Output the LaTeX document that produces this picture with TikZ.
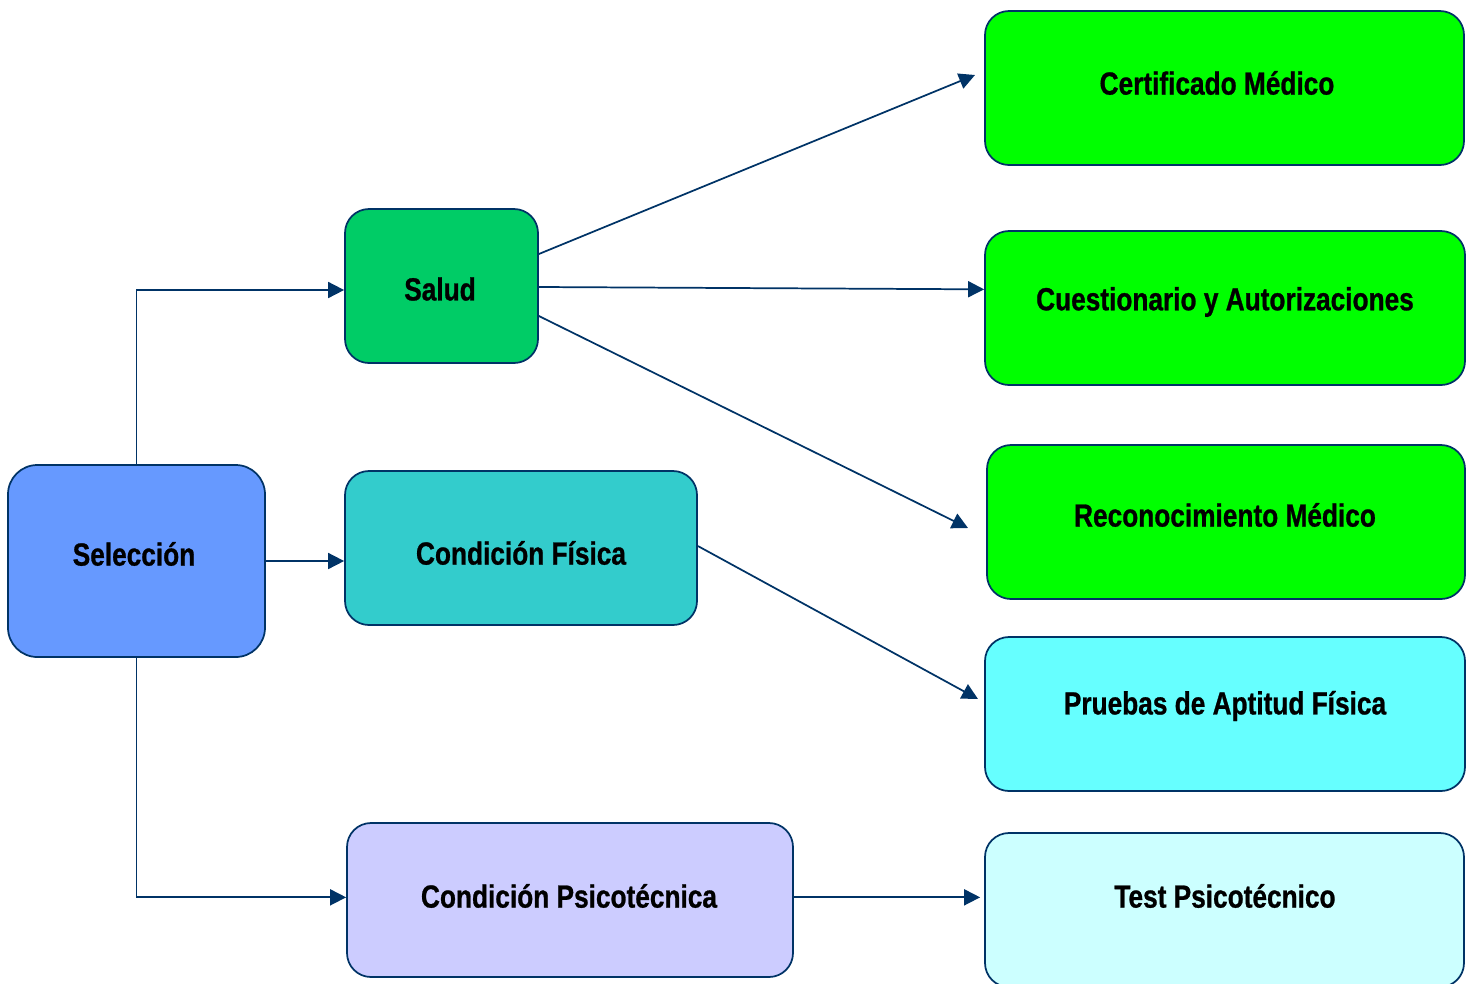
\documentclass[tikz,border=0pt]{standalone}
\usepackage{fontspec}
\setmainfont{Liberation Sans}[FakeStretch=0.82]
\newfontfamily\lblfont{Liberation Sans}[FakeStretch=0.82,FakeBold=0.8,BoldFont={* Bold},BoldFeatures={FakeStretch=0.82,FakeBold=0.8}]
\usetikzlibrary{arrows.meta,calc}
\definecolor{edge}{HTML}{003366}
\definecolor{cSel}{HTML}{6699FF}
\definecolor{cSal}{HTML}{00CC66}
\definecolor{cCF}{HTML}{33CCCC}
\definecolor{cCP}{HTML}{CCCCFF}
\definecolor{cGr}{HTML}{00FF00}
\definecolor{cPr}{HTML}{66FFFF}
\definecolor{cTe}{HTML}{CCFFFF}
\tikzset{
  box/.style={draw=edge, line width=1.3pt, rounded corners=18pt, inner sep=0pt,
    minimum height=115.5pt},
  lbl/.style={inner sep=0pt, font=\lblfont\fontsize{24}{28}\selectfont\bfseries},
  conn/.style={draw=edge, line width=1.3pt, -{Triangle[length=12pt,width=12pt]}}
}
\begin{document}
\begin{tikzpicture}[x=0.75pt,y=-0.75pt]
\useasboundingbox (0,0) rectangle (1474,983);
\clip (0,0) rectangle (1474,983);
\node[box, fill=cSel, rounded corners=22pt, minimum width=192.75pt, minimum height=144pt] (sel) at (136.5,561) {};
\node[box, fill=cSal, minimum width=144.75pt] (sal) at (441.5,286) {};
\node[box, fill=cCF, minimum width=264pt] (cf) at (521,548) {};
\node[box, fill=cCP, minimum width=334.5pt] (cp) at (570,900) {};
\node[box, fill=cGr, minimum width=359.25pt] (cert) at (1224.5,88) {};
\node[box, fill=cGr, minimum width=360pt] (cues) at (1225,308) {};
\node[box, fill=cGr, minimum width=358.5pt] (reco) at (1226,522) {};
\node[box, fill=cPr, minimum width=360pt] (prue) at (1225,714) {};
\node[box, fill=cTe, minimum width=359.25pt] (test) at (1224.5,910) {};
\node[lbl] (selt) at (134,554) {Selección};
\node[lbl] (salt) at (440,289) {Salud};
\node[lbl] (cft) at (521,553) {Condición Física};
\node[lbl] (cpt) at (569,896) {Condición Psicotécnica};
\node[lbl] (certt) at (1217,83) {Certificado Médico};
\node[lbl] (cuest) at (1225,302) {Cuestionario y Autorizaciones};
\node[lbl] (recot) at (1225,515) {Reconocimiento Médico};
\node[lbl] (pruet) at (1225,706) {Pruebas de Aptitud Física};
\node[lbl] (testt) at (1225,896) {Test Psicotécnico};
\coordinate (e1) at (975,75);
\coordinate (e3) at (968,528);
\coordinate (e4) at (978,699);
\draw[conn] (sel.north) |- ([yshift=-3pt]sal.west);
\draw[conn] (sel.east) -- (sel.east -| cf.west);
\draw[conn] (sel.south) |- ([yshift=2pt]cp.west);
\draw[conn] ([yshift=24pt]sal.east) -- (e1);
\draw[conn] ([yshift=-0.75pt]sal.east) -- ([yshift=14pt]cues.west);
\draw[conn] ([yshift=-22.5pt]sal.east) -- (e3);
\draw[conn] ([yshift=1.5pt]cf.east) -- (e4);
\draw[conn] ([yshift=2pt]cp.east) -- ([yshift=2pt,xshift=-3pt]cp.east -| test.west);
\end{tikzpicture}
\end{document}
